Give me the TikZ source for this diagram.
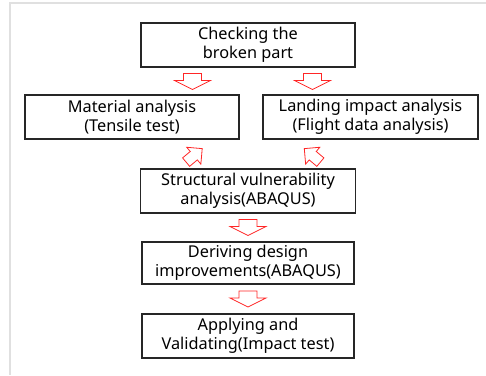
\documentclass[tikz,border=0pt]{standalone}
\usepackage{fontspec}
\setmainfont{Noto Sans}
\usepackage{tikz}
\usetikzlibrary{positioning, calc}
\tikzset{
  process/.style={rectangle, minimum width=214pt, minimum height=44pt, inner sep=0pt, text centered, align=center,
                  draw=black!85, line width=1.1pt, fill=white, font=\fontsize{16.3}{18.5}\selectfont},
  blockarrow/.style={draw=red!85, line width=0.8pt, fill=white, line join=miter},
  frameline/.style={draw=black!12, line width=1.6pt},
  downarrow/.pic={
    \path[blockarrow] (-9,8) -- (9,8) -- (9,1) -- (18,1) -- (0,-8) -- (-18,1) -- (-9,1) -- cycle; % panah lebar ke bawah
  },
  slantarrow/.pic={
    \path[blockarrow] (-5.5,11) -- (5.5,11) -- (5.5,1) -- (11,1) -- (0,-10) -- (-11,1) -- (-5.5,1) -- cycle; % panah kecil miring
  }
}

\begin{document}
\begin{tikzpicture}[x=1pt, y=1pt, node distance=72pt]
\useasboundingbox (0,0) rectangle (486,375);
\draw[frameline] (10,0) -- (10,372) -- (486,372);

\node (check) [process] at (248,330) {Checking the\\broken part};
\node (material) [process, below of=check, xshift=-116pt] {Material analysis\\(Tensile test)};
\node (landing) [process, below of=check, xshift=122.5pt, minimum width=215pt] {Landing impact analysis\\(Flight data analysis)};
\node (struct) [process, below of=check, yshift=-74pt, minimum width=215pt] {Structural vulnerability\\analysis(ABAQUS)};
\node (derive) [process, below of=struct, minimum width=212pt, minimum height=42pt] {Deriving design\\improvements(ABAQUS)};
\node (apply) [process, below of=derive, yshift=-1pt, minimum width=212pt] {Applying and\\Validating(Impact test)};

\coordinate (arr_check_mat) at ($(check.south)+(-55.5,-14)$);
\coordinate (arr_check_land) at ($(check.south)+(64.5,-14)$);
\coordinate (arr_mat_struct) at ($(material.south east)+(-45,-15.5)$);
\coordinate (arr_land_struct) at ($(landing.south west)+(49.5,-15.5)$);
\coordinate (arr_struct_derive) at ($(struct.south)!0.5!(derive.north)$);
\coordinate (arr_derive_apply) at ($(derive.south)!0.5!(apply.north)$);

\pic at (arr_check_mat) {downarrow};
\pic at (arr_check_land) {downarrow};
\pic[rotate=130] at (arr_mat_struct) {slantarrow};
\pic[rotate=-130] at (arr_land_struct) {slantarrow};
\pic at (arr_struct_derive) {downarrow};
\pic at (arr_derive_apply) {downarrow};

\end{tikzpicture}
\end{document}
